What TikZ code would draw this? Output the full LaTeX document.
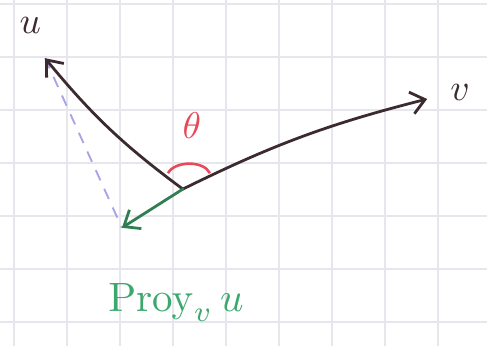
\documentclass[tikz,border=0pt]{standalone}
\usepackage{amsmath,amssymb}
\usepackage{xcolor}
\usepackage{tikz}
\usetikzlibrary{arrows.meta}

\definecolor{ink}{HTML}{3B2B30}
\definecolor{projgreen}{HTML}{2F7F52}
\definecolor{labelgreen}{HTML}{3DA86E}
\definecolor{anglered}{HTML}{E8495A}
\definecolor{dashlilac}{HTML}{A8A4E6}
\definecolor{gridgray}{HTML}{E6E6EC}

\begin{document}
\begin{tikzpicture}[>={Straight Barb[length=2.6mm,width=4.2mm]},
  vec/.style={->,line width=1.5pt,line cap=round},
  lbl/.style={inner sep=0pt,scale=2}]
  \useasboundingbox (0,0) rectangle (9.189,6.528);
  \begin{scope}
    \clip (0,0) rectangle (9.189,6.528);
    \draw[gridgray,line width=0.6pt,xshift=0.264cm,yshift=0.453cm] (-1,-1) grid (10,7);
  \end{scope}
  \coordinate (O) at (3.45,2.96);
  \coordinate (u) at (0.85,5.43);
  \coordinate (v) at (8.06,4.66);
  \coordinate (p) at (2.30,2.23);
  \coordinate (a1) at (3.17,3.26);
  \coordinate (a2) at (3.96,3.26);
  \draw[dashlilac,dashed,line width=1pt,dash pattern=on 6pt off 5pt] (u) -- (p);
  \draw[vec,ink] (O) to[bend left=7] (u);
  \draw[vec,ink] (O) to[bend left=6] (v);
  \draw[vec,projgreen] (O) -- (p);
  \draw[anglered,line width=1.4pt] (a1) .. controls (3.3,3.50) and (3.85,3.50) .. (a2);
  \node[lbl,ink] (ulabel) at (0.57,6.05) {$u$};
  \node[lbl,ink] (vlabel) at (8.68,4.78) {$v$};
  \node[lbl,anglered] (theta) at (3.62,4.15) {$\theta$};
  \node[labelgreen,inner sep=0pt,scale=2.2] (proj) at (3.32,0.82) {$\mathrm{Proy}_{v}\,u$};
\end{tikzpicture}
\end{document}
